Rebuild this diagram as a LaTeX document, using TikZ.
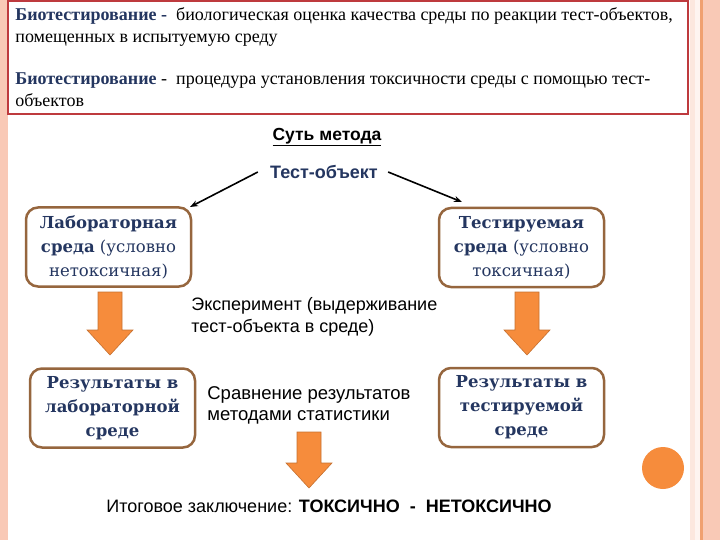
\documentclass[tikz,border=0pt]{standalone}
\usepackage{fontspec}
\setmainfont{Liberation Serif}
\setsansfont{Liberation Sans}
\newfontfamily\envfont{DejaVu Serif}
\usetikzlibrary{positioning,arrows.meta}

\definecolor{navy}{RGB}{36,54,96}
\definecolor{boxbrown}{RGB}{150,102,62}
\definecolor{stripsalmon}{RGB}{249,201,182}
\definecolor{stripline}{RGB}{240,160,112}
\definecolor{orangefill}{RGB}{246,140,60}
\definecolor{frame}{RGB}{190,58,62}

\tikzset{every picture/.style={line width=0.75pt}}
\tikzset{
  envbox/.style={draw=boxbrown, line width=2.5pt, rounded corners=12pt, fill=white,
    minimum width=165pt, minimum height=79pt, inner sep=0pt, align=center, text=navy,
    font=\envfont\fontsize{16.5}{24}\selectfont},
  deftext/.style={anchor=base west, inner sep=0pt, align=left, font=\fontsize{18}{22}\selectfont},
  sanstext/.style={anchor=west, inner sep=0pt, align=left, font=\sffamily\fontsize{18}{21.5}\selectfont},
  blockarr/.style={fill=orangefill, draw=orangefill!80!black, line width=0.6pt},
  thinarr/.style={-{Stealth[length=8pt,width=6pt]}, line width=1.6pt},
}
\newcommand\orangedown[3]{% x, top, tip
  \path[blockarr] (#1-12,#2) -- (#1+12,#2) -- (#1+12,#3-25) -- (#1+23,#3-25) -- (#1,#3)
    -- (#1-23,#3-25) -- (#1-12,#3-25) -- cycle;}

\begin{document}
\begin{tikzpicture}[x=1pt,y=1pt,yscale=-1]
\useasboundingbox (0,0) rectangle (720,540);

%Shape: side strips
\fill[stripsalmon] (0,0) rectangle (8,540);
\fill[stripsalmon!45] (690,0) rectangle (695,540);
\fill[stripsalmon!20] (695,0) rectangle (700,540);
\fill[stripline] (700,0) rectangle (703,540);
\fill[stripsalmon] (703,0) rectangle (720,540);

%Shape: definitions frame
\draw[frame, line width=1.2pt, fill=white] (8,1) rectangle (688,114);

% Text Node (base = last line)
\node[deftext] (def1) at (15,43) {\textcolor{navy}{\textbf{Биотестирование -}}\ \ биологическая оценка качества среды по реакции тест-объектов,\\помещенных в испытуемую среду};
% Text Node
\node[deftext] (def2) at (15,107) {\textcolor{navy}{\textbf{Биотестирование}} -\ \ процедура установления токсичности среды с помощью тест-\\объектов};

% Text Node
\node[inner sep=0pt, font=\sffamily\bfseries\fontsize{17.5}{20}\selectfont] (essence) at (327,137) {\underline{Суть метода}};
\node[inner sep=0pt, text=navy, font=\sffamily\bfseries\fontsize{18}{20}\selectfont] (tobj) at (324,172) {Тест-объект};

%Shape: environments
\node[envbox] (lab) at (108.5,247) {\textbf{Лабораторная}\\\textbf{среда} (условно\\нетоксичная)};
\node[envbox] (test) at (521.5,247.5) {\textbf{Тестируемая}\\\textbf{среда} (условно\\токсичная)};

%Shape: results
\node[envbox] (reslab) at (112.5,408) {\textbf{Результаты в}\\\textbf{лабораторной}\\\textbf{среде}};
\node[envbox] (restest) at (521.5,407.5) {\textbf{Результаты в}\\\textbf{тестируемой}\\\textbf{среде}};

% Text Node
\node[sanstext] (exper) at (191,317) {Эксперимент (выдерживание\\тест-объекта в среде)};
\node[sanstext, font=\sffamily\fontsize{18.5}{21}\selectfont] (compare) at (207,405) {Сравнение результатов\\методами статистики};
\node[sanstext] (verdict) at (106,506) {Итоговое заключение: \textbf{ТОКСИЧНО\ \ -\ \ НЕТОКСИЧНО}};

%Straight Lines
\coordinate (labtip) at (190,207);
\coordinate (testtip) at (462,202);
\draw[thinarr] ([xshift=-12pt]tobj.west) -- (labtip);
\draw[thinarr] ([xshift=10pt]tobj.east) -- (testtip);

%Shape: block arrows
\orangedown{110}{292}{355}
\orangedown{527}{292}{355}
\orangedown{309}{432}{488}

%Shape: Circle
\fill[orangefill] (663,468) circle (21);

\end{tikzpicture}
\end{document}
